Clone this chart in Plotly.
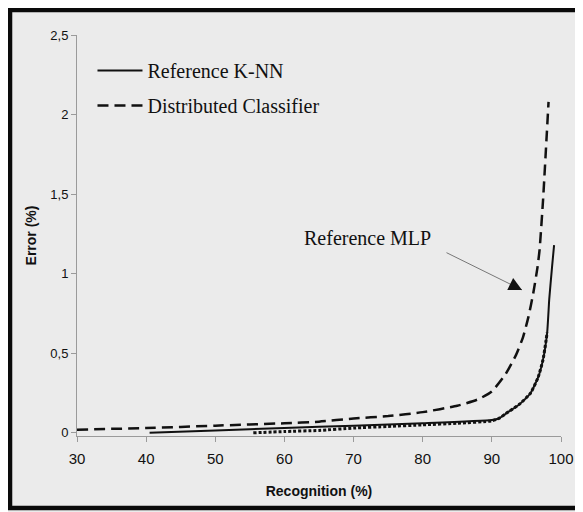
import plotly.graph_objects as go

# ---- data ----
dist_x = [30, 40, 50, 60, 65, 70, 75, 80, 85, 88, 90, 92, 93.5, 94.5, 95.3, 96, 96.6, 96.9, 97.4, 98.2]
dist_y = [0.02, 0.03, 0.045, 0.06, 0.07, 0.09, 0.105, 0.13, 0.17, 0.21, 0.26, 0.37, 0.49, 0.6, 0.73, 0.88, 1.04, 1.15, 1.46, 2.08]

knn_x = [40.5, 50, 60, 70, 80, 90, 91, 92, 94, 95.6, 96.7, 97.4, 98, 98.3, 98.7, 99]
knn_y = [0.0, 0.015, 0.03, 0.045, 0.06, 0.08, 0.09, 0.12, 0.18, 0.25, 0.35, 0.46, 0.63, 0.84, 1.04, 1.18]

mlp_x = [55.5, 60, 65, 70, 75, 80, 85, 90, 91, 92, 94, 95.6, 96.7, 97.4, 98]
mlp_y = [0.0, 0.008, 0.015, 0.03, 0.04, 0.05, 0.06, 0.075, 0.09, 0.12, 0.18, 0.25, 0.35, 0.46, 0.63]

x_ticks = [30, 40, 50, 60, 70, 80, 90, 100]
x_ticktext = ["30", "40", "50", "60", "70", "80", "90", "100"]
y_ticks = [0, 0.5, 1, 1.5, 2, 2.5]
y_ticktext = ["0", "0,5", "1", "1,5", "2", "2,5"]

names = ["Reference K-NN", "Distributed Classifier", "Reference MLP"]

BG = "#ebebeb"
INK = "#111111"
AXIS = "#9a9a9a"

fig = go.Figure()

fig.add_trace(go.Scatter(
    x=mlp_x, y=mlp_y, mode="lines", name=names[2], showlegend=False,
    line=dict(color=INK, width=3, dash="3px,2px", shape="spline", smoothing=0.5),
))
fig.add_trace(go.Scatter(
    x=knn_x, y=knn_y, mode="lines", name=names[0], legendgroup="a",
    line=dict(color=INK, width=2, shape="spline", smoothing=0.5),
))
fig.add_trace(go.Scatter(
    x=dist_x, y=dist_y, mode="lines", name=names[1], legendgroup="b",
    line=dict(color=INK, width=2.5, dash="11px,6px", shape="spline", smoothing=0.5),
))

# text label for the MLP curve with its arrow
fig.add_annotation(x=62.5, y=1.225, xref="x", yref="y", text=names[2],
                   showarrow=False, xanchor="left", yanchor="middle",
                   font=dict(family="Liberation Serif", size=20, color=INK))
fig.add_annotation(x=94.36, y=0.898, xref="x", yref="y", text="",
                   showarrow=True, ax=-77, ay=-38, arrowhead=0,
                   arrowwidth=1, arrowcolor="#777777")
fig.add_annotation(x=94.36, y=0.898, xref="x", yref="y", text="",
                   showarrow=True, ax=-10, ay=-5, arrowhead=2, arrowsize=2.2,
                   arrowwidth=1.2, arrowcolor=INK)

# outer frame of the figure
fig.add_shape(type="rect", xref="paper", yref="paper",
              x0=-0.1384, x1=1.0393, y0=-0.1796, y1=1.0623,
              line=dict(color="#0a0a0a", width=4.5), fillcolor="rgba(0,0,0,0)")

fig.update_layout(
    width=575, height=504,
    margin=dict(l=69, r=22, t=27, b=76, autoexpand=False),
    paper_bgcolor=BG, plot_bgcolor=BG,
    showlegend=True,
    legend=dict(x=0.032, y=0.96, xanchor="left", yanchor="top", itemwidth=45,
                bgcolor="rgba(0,0,0,0)", traceorder="grouped", tracegroupgap=6,
                font=dict(family="Liberation Serif", size=20, color=INK)),
    xaxis=dict(range=[30, 100], tickvals=x_ticks, ticktext=x_ticktext, automargin=False,
               showgrid=False, zeroline=False, showline=True, linecolor=AXIS, linewidth=1,
               ticks="outside", ticklen=5, tickcolor=AXIS, ticklabelstandoff=4,
               tickfont=dict(family="Liberation Sans", size=15, color=INK),
               title=dict(text="<b>Recognition (%)</b>", standoff=20,
                          font=dict(family="Liberation Sans", size=14, color=INK))),
    yaxis=dict(range=[-0.02, 2.5], tickvals=y_ticks, ticktext=y_ticktext, automargin=False,
               showgrid=False, zeroline=False, showline=True, linecolor=AXIS, linewidth=1,
               ticks="outside", ticklen=5, tickcolor=AXIS,
               tickfont=dict(family="Liberation Sans", size=13, color=INK),
               title=dict(text="<b>Error (%)</b>", standoff=10,
                          font=dict(family="Liberation Sans", size=14, color=INK))),
)

fig.write_html("out.html")
